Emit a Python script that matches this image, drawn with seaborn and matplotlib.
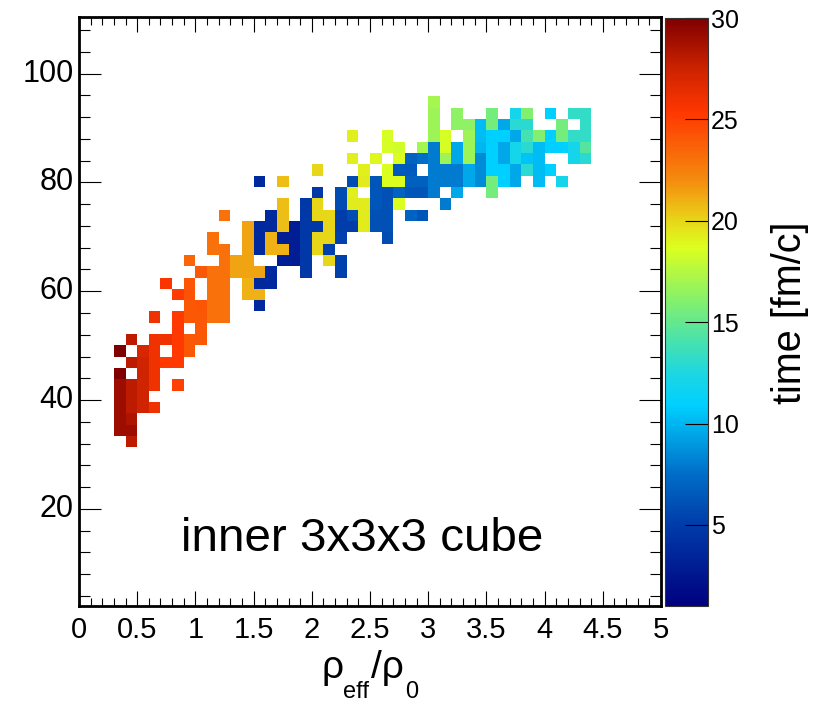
import numpy as np
import pandas as pd
import seaborn as sns
import matplotlib.pyplot as plt
from matplotlib.colors import LinearSegmentedColormap

# histogram binning
n_x = 50
n_y = 52
x_max = 5.0
y_min = 2.15
y_max = 110.4
first_row = 14  # bin index of the lowest filled row

# filled bins, one list per row going upwards
cell_cols = [
    [4],
    [3, 4],
    [3, 4],
    [3, 4, 5, 6],
    [3, 4, 5],
    [3, 4, 5, 6, 8],
    [3, 5, 6],
    [4, 5, 6, 7, 8],
    [3, 5, 6, 8, 9],
    [4, 6, 7, 8, 9, 10],
    [8, 10],
    [6, 8, 9, 10, 11, 12],
    [9, 10, 11, 12, 15],
    [8, 9, 11, 12, 14, 15],
    [7, 9, 11, 12, 14, 15, 16],
    [10, 11, 12, 13, 14, 15, 16, 19, 22],
    [9, 12, 13, 14, 17, 18, 19, 21, 22],
    [11, 12, 14, 15, 16, 17, 18, 19, 20, 21],
    [11, 14, 15, 16, 17, 18, 19, 20, 21, 22, 26],
    [14, 15, 16, 17, 18, 19, 20, 21, 22, 23, 24, 25, 26],
    [12, 16, 17, 19, 20, 21, 22, 23, 24, 25, 26, 28, 29],
    [17, 19, 20, 22, 23, 24, 25, 26, 27, 31],
    [20, 22, 23, 25, 26, 27, 28, 29, 30, 32, 35],
    [15, 17, 23, 24, 25, 26, 27, 28, 29, 30, 31, 32, 33, 34, 35, 36, 37, 39, 41],
    [20, 24, 26, 27, 28, 30, 31, 32, 33, 34, 35, 36, 37, 38, 39, 40],
    [23, 25, 27, 28, 29, 30, 31, 32, 33, 34, 35, 36, 37, 38, 39, 42, 43],
    [26, 27, 29, 30, 31, 32, 33, 34, 35, 36, 37, 38, 39, 40, 41, 42, 43],
    [23, 26, 30, 31, 33, 34, 35, 36, 37, 38, 39, 40, 41, 42, 43],
    [30, 32, 33, 34, 35, 36, 37, 38, 41, 43],
    [30, 32, 35, 37, 38, 40, 42, 43],
    [30],
]
cell_times = [
    [28],
    [29, 29],
    [29, 28.5],
    [29, 28, 27.3, 26],
    [29, 28, 27.3],
    [29, 28, 27.3, 26, 25],
    [30, 27.3, 26],
    [28, 27.3, 26, 25.3, 25.3],
    [30, 27, 26, 25.3, 24],
    [28, 26, 26, 25.3, 24, 24],
    [25.3, 24],
    [26, 25.3, 24, 24, 23, 23],
    [24, 24.2, 23, 23, 3.8],
    [25.2, 24.3, 23, 23, 21, 21],
    [25.5, 24.2, 23, 23, 21, 3.8, 3.8],
    [24, 23, 23, 21.3, 21.3, 21.3, 3.8, 4.8, 5.2],
    [23.5, 23, 21.3, 21.3, 3, 3, 4.8, 20, 5.2],
    [23, 23, 21.3, 3.8, 21, 21, 3, 4.8, 20, 5.2],
    [23, 21.3, 3.8, 21, 3, 3, 4.8, 20, 20, 5.2, 5.8],
    [21.3, 3.8, 3.8, 20.7, 3, 4.8, 4.8, 20, 5, 5, 19.3, 6, 6],
    [23, 3.8, 20.7, 4.8, 20, 20, 5, 5.8, 19.3, 6, 6, 7, 6.3],
    [20.7, 4.8, 20, 5.8, 19.3, 19.3, 6.3, 6, 18.7, 8],
    [4.8, 5.8, 19.2, 6.3, 6, 7, 6.3, 6.3, 8, 9.5, 15.5],
    [3.8, 20.7, 5.8, 19.3, 6.3, 18.7, 18.7, 6.8, 6.8, 8, 8, 8, 9.5, 8.5, 15.5, 10.9, 9.5, 10.2, 12],
    [20, 19.2, 18.7, 6.5, 6.5, 8, 8, 8, 9.5, 8.5, 10.9, 10.9, 9.5, 13, 10.2, 10.9],
    [19.2, 19, 18.7, 7, 7.5, 8, 16.8, 9.5, 16.8, 8.5, 10.9, 9.5, 12, 10.5, 10.2, 12, 13],
    [18.5, 18.3, 17, 8, 18.5, 9.5, 16.8, 10, 10.9, 9.5, 12, 13, 10.2, 10.9, 10.9, 12, 14.5],
    [19.2, 18.5, 16.8, 18.5, 16.8, 10.2, 10.9, 10.9, 9.5, 14, 16, 10.9, 15.5, 13.3, 13.3],
    [16.8, 16.3, 16.3, 10.2, 15.5, 9.5, 13, 13, 15.5, 13.3],
    [16.8, 16.3, 15.5, 12, 16, 10.9, 13.3, 13.3],
    [17],
]

x_ticks = [0, 0.5, 1, 1.5, 2, 2.5, 3, 3.5, 4, 4.5, 5]
x_labels = ['0', '0.5', '1', '1.5', '2', '2.5', '3', '3.5', '4', '4.5', '5']
y_ticks = [20, 40, 60, 80, 100]
cbar_ticks = [5, 10, 15, 20, 25, 30]

# colour scale
t_min = 1
t_max = 30
scale_t = [1, 5, 7.5, 10.9, 12.5, 14, 16, 18.7, 20, 22, 25.4, 27.5, 30]
scale_rgb = ['#000080', '#003caa', '#006ec8', '#00d0ff', '#1ed7e1', '#46e1af', '#82f06e',
             '#dcff1e', '#e8d719', '#f58c0f', '#ff3700', '#cd2300', '#800000']

plt.rcParams['font.family'] = ['Liberation Sans', 'DejaVu Sans']

W, H = 817, 704
fig = plt.figure(figsize=(W / 100, H / 100), dpi=100)
ax = fig.add_axes([79 / W, 1 - 606 / H, 582 / W, 589 / H])
cax = fig.add_axes([665 / W, 1 - 606 / H, 43 / W, 588 / H])

records = []
for i in range(len(cell_cols)):
    for c, t in zip(cell_cols[i], cell_times[i]):
        records.append({'col': c, 'row': i + first_row, 'time': t})
df = pd.DataFrame(records)
grid = df.pivot(index='row', columns='col', values='time')
grid = grid.reindex(index=range(n_y), columns=range(n_x))

cmap = LinearSegmentedColormap.from_list(
    'time', [((t - t_min) / (t_max - t_min), c) for t, c in zip(scale_t, scale_rgb)], N=256)

sns.heatmap(grid, ax=ax, cbar_ax=cax, cmap=cmap, vmin=t_min, vmax=t_max, linewidths=0)
ax.invert_yaxis()


def x_pos(v):
    return np.asarray(v) * n_x / x_max


def y_pos(v):
    return (np.asarray(v) - y_min) * n_y / (y_max - y_min)


ax.set_xlabel('')
ax.set_ylabel('')
ax.set_xticks(x_pos(x_ticks))
ax.set_xticklabels(x_labels, rotation=0)
ax.set_xticks(x_pos(np.arange(0, 50) / 10), minor=True)
ax.set_yticks(y_pos(y_ticks))
ax.set_yticklabels([str(v) for v in y_ticks], rotation=0)
ax.set_yticks(y_pos(np.arange(4, 112, 4)), minor=True)
ax.set_xlim(0, n_x)
ax.set_ylim(0, n_y)

ax.tick_params(axis='x', which='major', direction='in', top=True, bottom=True, length=11,
               width=0.8, labelsize=21, pad=7)
ax.tick_params(axis='x', which='minor', direction='in', top=True, bottom=True, length=5.5, width=0.8)
ax.tick_params(axis='y', which='major', direction='in', left=True, right=True, length=16,
               width=0.8, labelsize=22, pad=4)
ax.tick_params(axis='y', which='minor', direction='in', left=True, right=True, length=8, width=0.8)
for side in ax.spines:
    ax.spines[side].set_visible(True)
    ax.spines[side].set_linewidth(2.0)
    ax.spines[side].set_color('black')

cbar = ax.collections[0].colorbar
cbar.set_ticks(cbar_ticks)
cbar.set_ticklabels([str(v) for v in cbar_ticks])
cax.minorticks_off()
cax.tick_params(direction='in', right=True, left=False, length=16.5, width=0.8, labelsize=18, pad=2)
cbar.outline.set_visible(True)
cbar.outline.set_linewidth(0.8)
cbar.outline.set_edgecolor('#333333')

ax.text(x_pos(2.43), y_pos(14.5), 'inner 3x3x3 cube', fontsize=34.2, ha='center', va='center', color='black')
fig.text(790 / W, 1 - 313 / H, 'time [fm/c]', rotation=90, fontsize=28.5, ha='center', va='center')

# x title is set in pieces, the subscripts hang well below the baseline
fig.text(321 / W, 1 - 678 / H, '\u03c1', fontsize=28, ha='left', va='baseline')
fig.text(343 / W, 1 - 698 / H, 'eff', fontsize=17, ha='left', va='baseline')
fig.text(371 / W, 1 - 678 / H, '/\u03c1', fontsize=28, ha='left', va='baseline')
fig.text(405 / W, 1 - 698 / H, '0', fontsize=17, ha='left', va='baseline')

plt.savefig('out.png', dpi=100)
